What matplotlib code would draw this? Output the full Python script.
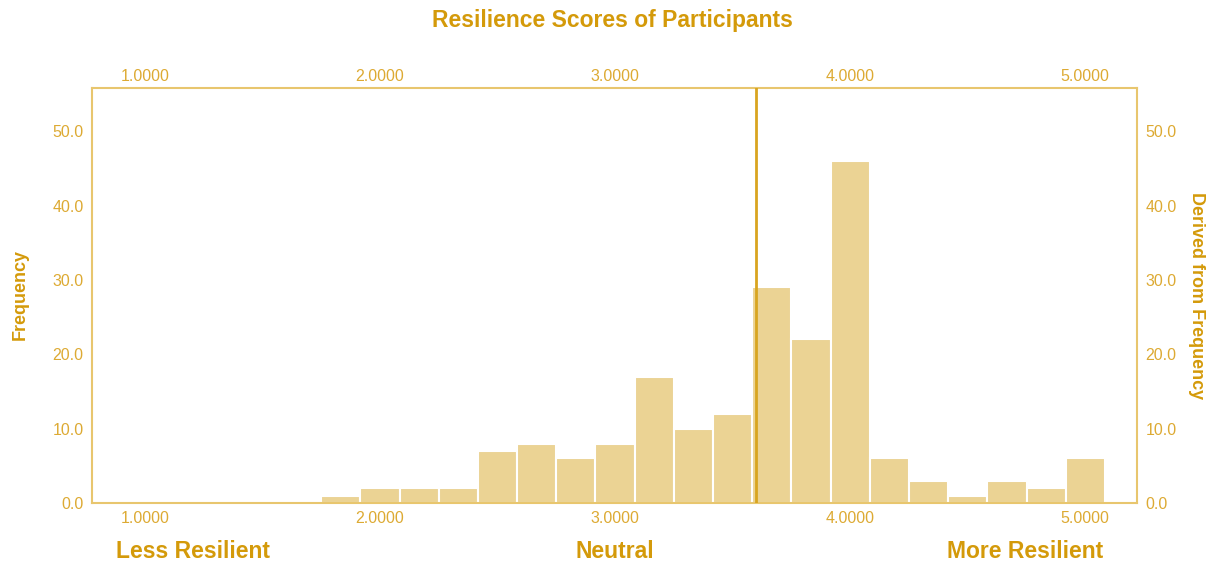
import numpy as np
import matplotlib
matplotlib.use('Agg')
import matplotlib.pyplot as plt

# histogram bins (width 1/6) and counts
bin_left = [1.75 + i / 6 for i in range(20)]
counts = [1, 2, 2, 2, 7, 8, 6, 8, 17, 10, 12, 29, 22, 46, 6, 3, 1, 3, 2, 6]
x_ticks = [1.0, 2.0, 3.0, 4.0, 5.0]
y_ticks = [0, 10, 20, 30, 40, 50]
mean_line = 3.6
scale_labels = ['Less Resilient', 'Neutral', 'More Resilient']
scale_pos = [1.204, 3.0, 4.745]

BAR = '#EBD394'
SPINE = '#E8C66E'
TICK = '#DDAA33'
LABEL = '#D49A0A'

plt.rcParams['font.family'] = ['Liberation Sans', 'DejaVu Sans']

fig = plt.figure(figsize=(12.11, 5.62), dpi=100)
ax = fig.add_axes([92 / 1211, 1 - 503 / 562, (1137 - 92) / 1211, (503 - 88) / 562])

ax.bar(bin_left, counts, width=1 / 6, align='edge', color=BAR,
       edgecolor='white', linewidth=1.5, zorder=2)
ax.axvline(mean_line, color='#D9A520', linewidth=2, zorder=3)

ax.set_xlim(0.775, 5.22)
ax.set_ylim(0, 55.8)

for s in ax.spines.values():
    s.set_color(SPINE)
    s.set_linewidth(1.5)

ax.set_xticks(x_ticks)
ax.set_xticklabels([f'{v:.4f}' for v in x_ticks])
ax.set_yticks(y_ticks)
ax.set_yticklabels([f'{v:.1f}' for v in y_ticks])
ax.tick_params(axis='both', length=0, colors=TICK, labelsize=11.5,
               right=False, labelright=True)
ax.tick_params(axis='x', pad=6)
ax.tick_params(axis='y', pad=6)

# top axis with its own padding
top = ax.secondary_xaxis('top')
top.set_xticks(x_ticks)
top.set_xticklabels([f'{v:.4f}' for v in x_ticks])
top.tick_params(length=0, colors=TICK, labelsize=11.5, pad=3)
top.spines['top'].set_visible(False)

fig.text(20 / 1211, 1 - 295 / 562, 'Frequency', rotation=90, ha='center', va='center',
         fontsize=13, fontweight='bold', color=LABEL)
fig.text(1197 / 1211, 1 - 296 / 562, 'Derived from Frequency', rotation=-90,
         ha='center', va='center', fontsize=13, fontweight='bold', color=LABEL)

fig.text(612 / 1211, 1 - 20 / 562, 'Resilience Scores of Participants', ha='center',
         va='center', fontsize=16.5, fontweight='bold', color=LABEL)

for lab, xp in zip(scale_labels, scale_pos):
    ax.text(xp, -0.118, lab, transform=ax.get_xaxis_transform(), ha='center', va='center',
            fontsize=16.5, fontweight='bold', color=LABEL)

fig.savefig('out.png', dpi=100)
